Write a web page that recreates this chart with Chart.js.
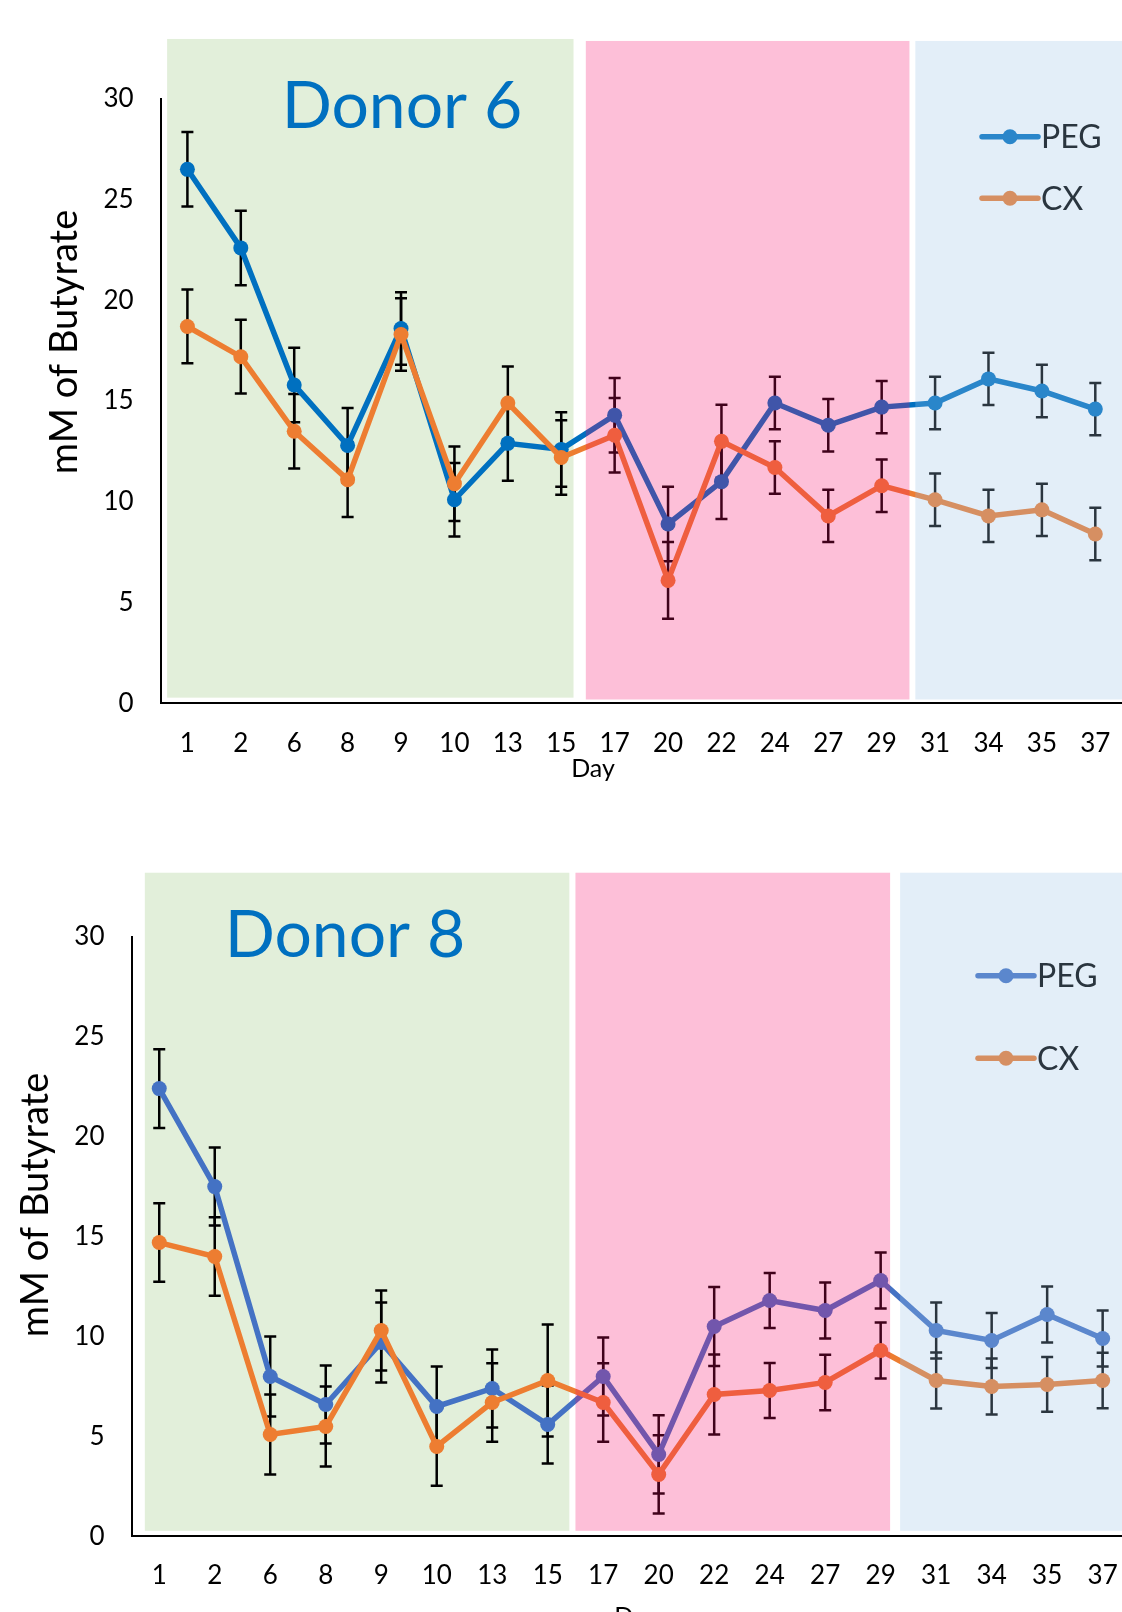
<!DOCTYPE html>
<html>
<head>
<meta charset="utf-8">
<script src="https://cdn.jsdelivr.net/npm/chart.js@4.4.0/dist/chart.umd.min.js"></script>
<style>
    html, body { margin: 0; padding: 0; background: #fff; overflow: hidden; width: 1122px; height: 1612px; }
    canvas { position: absolute; left: 0; }
    #donor6 { top: 0; }
    #donor8 { top: 806px; }
</style>
</head>
<body>
<canvas id="donor6" width="1137" height="806"></canvas>
<canvas id="donor8" width="1146" height="806"></canvas>
<script>
// Datos del gráfico
const days = ['1', '2', '6', '8', '9', '10', '13', '15', '17', '20', '22', '24', '27', '29', '31', '34', '35', '37'];
const yTicks = [0, 5, 10, 15, 20, 25, 30];
const seriesNames = ['PEG', 'CX'];

// Donor 6
const peg6 = [26.5, 22.6, 15.8, 12.8, 18.6, 10.1, 12.9, 12.6, 14.3, 8.9, 11.0, 14.9, 13.8, 14.7, 14.9, 16.1, 15.5, 14.6];
const pegErr6 = [1.85, 1.85, 1.85, 1.85, 1.8, 1.82, 1.85, 1.85, 1.85, 1.85, 1.85, 1.3, 1.3, 1.3, 1.3, 1.3, 1.3, 1.3];
const cx6 = [18.7, 17.2, 13.5, 11.1, 18.3, 10.9, 14.9, 12.2, 13.3, 6.1, 13.0, 11.7, 9.3, 10.8, 10.1, 9.3, 9.6, 8.4];
const cxErr6 = [1.83, 1.83, 1.85, 1.85, 1.8, 1.85, 1.82, 1.85, 1.85, 1.9, 1.82, 1.3, 1.3, 1.3, 1.3, 1.3, 1.3, 1.3];

// Donor 8
const peg8 = [22.4, 17.5, 8.0, 6.6, 9.7, 6.5, 7.4, 5.6, 8.0, 4.1, 10.5, 11.8, 11.3, 12.8, 10.3, 9.8, 11.1, 9.9];
const pegErr8 = [1.97, 1.95, 2.0, 1.95, 2.0, 2.0, 1.95, 1.95, 1.95, 1.96, 1.97, 1.38, 1.4, 1.4, 1.4, 1.38, 1.4, 1.4];
const cx8 = [14.7, 14.0, 5.1, 5.5, 10.3, 4.5, 6.7, 7.8, 6.7, 3.1, 7.1, 7.3, 7.7, 9.3, 7.8, 7.5, 7.6, 7.8];
const cxErr8 = [1.96, 1.96, 2.0, 2.0, 2.0, 1.97, 1.96, 2.8, 1.96, 1.96, 2.0, 1.38, 1.39, 1.4, 1.4, 1.4, 1.37, 1.39];

const FONT = 'Lato, "Open Sans", sans-serif';

// Fondo verde debajo, capas rosa y azul translúcidas encima (como en el original)
const GREEN = '#E2EFDA';
const PINK = 'rgba(246, 8, 104, 0.26)';
const BLUE = 'rgba(153, 193, 229, 0.275)';

// Función para dibujar una franja de fase en unidades de categoría / valor
const drawBand = (chart, band, fill) => {
    const { ctx, scales: { x, y } } = chart;
    const x0 = x.getPixelForValue(band.from);
    const x1 = Math.min(x.getPixelForValue(band.to), chart.width + 5);
    const y0 = y.getPixelForValue(band.top);
    const y1 = y.getPixelForValue(band.bottom);
    ctx.save();
    ctx.fillStyle = fill;
    ctx.fillRect(x0, y0, x1 - x0, y1 - y0);
    ctx.restore();
};

// Plugin con fases, barras de error, título, leyenda y etiquetas
const decorations = {
    id: 'decorations',
    beforeDraw(chart, args, opts) {
        const ctx = chart.ctx;
        ctx.save();
        ctx.fillStyle = '#fff';
        ctx.fillRect(0, 0, chart.width, chart.height);
        ctx.restore();
        drawBand(chart, opts.bands.green, GREEN);
    },
    beforeDatasetsDraw(chart, args, opts) {
        const { ctx, scales: { y } } = chart;
        ctx.save();
        ctx.strokeStyle = '#000';
        ctx.lineWidth = 2.5;
        chart.data.datasets.forEach((ds, i) => {
            const meta = chart.getDatasetMeta(i);
            meta.data.forEach((pt, j) => {
                const v = ds.data[j];
                const e = ds.errors[j];
                const yt = y.getPixelForValue(v + e);
                const yb = y.getPixelForValue(v - e);
                ctx.beginPath();
                ctx.moveTo(pt.x, yt);
                ctx.lineTo(pt.x, yb);
                ctx.moveTo(pt.x - 6, yt);
                ctx.lineTo(pt.x + 6, yt);
                ctx.moveTo(pt.x - 6, yb);
                ctx.lineTo(pt.x + 6, yb);
                ctx.stroke();
            });
        });
        ctx.restore();
    },
    afterDatasetsDraw(chart, args, opts) {
        const ctx = chart.ctx;
        ctx.save();

        // Título del donante
        ctx.fillStyle = '#0070C0';
        ctx.font = `66px ${FONT}`;
        ctx.textAlign = 'center';
        ctx.textBaseline = 'alphabetic';
        ctx.fillText(opts.title, opts.titleX, opts.titleY);

        // Título del eje Y
        ctx.fillStyle = '#000';
        ctx.font = `38px ${FONT}`;
        ctx.textBaseline = 'middle';
        ctx.save();
        ctx.translate(opts.yTitleX, opts.yTitleY);
        ctx.rotate(-Math.PI / 2);
        ctx.fillText('mM of Butyrate', 0, 0);
        ctx.restore();

        // Título del eje X
        ctx.font = `25px ${FONT}`;
        ctx.textBaseline = 'alphabetic';
        ctx.fillText('Day', opts.dayX, opts.dayY);

        // Leyenda
        ctx.font = `32px ${FONT}`;
        ctx.textAlign = 'left';
        ctx.textBaseline = 'middle';
        chart.data.datasets.forEach((ds, i) => {
            const ly = opts.legendY[i];
            ctx.strokeStyle = ds.borderColor;
            ctx.lineWidth = 5.5;
            ctx.lineCap = 'round';
            ctx.beginPath();
            ctx.moveTo(opts.legendX, ly);
            ctx.lineTo(opts.legendX + 56, ly);
            ctx.stroke();
            ctx.fillStyle = ds.borderColor;
            ctx.beginPath();
            ctx.arc(opts.legendX + 28, ly, 7.5, 0, Math.PI * 2);
            ctx.fill();
            ctx.fillStyle = '#000';
            ctx.fillText(ds.label, opts.legendX + 59, ly + 1);
        });
        ctx.restore();

        // Capas translúcidas de las fases 2 y 3
        drawBand(chart, opts.bands.pink, PINK);
        drawBand(chart, opts.bands.blue, BLUE);
    }
};

// Función para crear cada panel
const makeChart = (id, pegData, pegErr, cxData, cxErr, pegColor, L) => {
    const ctx = document.getElementById(id).getContext('2d');
    return new Chart(ctx, {
        type: 'line',
        data: {
            labels: days,
            datasets: [
                {
                    label: seriesNames[0], data: pegData, errors: pegErr, order: 1,
                    borderColor: pegColor, backgroundColor: pegColor,
                    pointBackgroundColor: pegColor, borderWidth: 5.5,
                    pointRadius: 7.5, pointBorderWidth: 0, tension: 0
                },
                {
                    label: seriesNames[1], data: cxData, errors: cxErr, order: 0,
                    borderColor: '#ED7D31', backgroundColor: '#ED7D31',
                    pointBackgroundColor: '#ED7D31', borderWidth: 5.5,
                    pointRadius: 7.5, pointBorderWidth: 0, tension: 0
                }
            ]
        },
        options: {
            responsive: false,
            devicePixelRatio: 1,
            animation: false,
            layout: { padding: { top: L.top, right: L.right, left: 0, bottom: 0 } },
            plugins: {
                legend: { display: false },
                tooltip: { enabled: false },
                decorations: L.deco
            },
            scales: {
                x: {
                    offset: true,
                    grid: { display: false, drawTicks: false },
                    border: { display: true, color: '#000', width: 2 },
                    ticks: { color: '#000', font: { family: FONT, size: 26 }, padding: L.xPad, maxRotation: 0, autoSkip: false },
                    afterFit: (s) => { s.height = L.xHeight; }
                },
                y: {
                    min: yTicks[0],
                    max: yTicks[yTicks.length - 1],
                    grid: { display: false, drawTicks: false },
                    border: { display: true, color: '#000', width: 2 },
                    ticks: { stepSize: yTicks[1] - yTicks[0], color: '#000', font: { family: FONT, size: 26 }, padding: 27 },
                    afterFit: (s) => { s.width = L.yWidth; }
                }
            }
        },
        plugins: [decorations]
    });
};

makeChart('donor6', peg6, pegErr6, cx6, cxErr6, '#0070C0', {
    top: 98.8, right: 15, xHeight: 806 - 703.3, yWidth: 160.7, xPad: 25,
    deco: {
        title: 'Donor 6', titleX: 402, titleY: 128,
        yTitleX: 65, yTitleY: 342,
        dayX: 593, dayY: 777,
        legendX: 982, legendY: [136.7, 198.3],
        bands: {
            green: { from: -0.38, to: 7.23, top: 32.97, bottom: 0.28 },
            pink: { from: 7.46, to: 13.52, top: 32.87, bottom: 0.19 },
            blue: { from: 13.63, to: 18, top: 32.87, bottom: 0.19 }
        }
    }
});

makeChart('donor8', peg8, pegErr8, cx8, cxErr8, '#4472C4', {
    top: 130.7, right: 15.6, xHeight: 806 - 730.4, yWidth: 131.5, xPad: 24,
    deco: {
        title: 'Donor 8', titleX: 345, titleY: 150.7,
        yTitleX: 36, yTitleY: 399,
        dayX: 636, dayY: 819,
        legendX: 978, legendY: [169.7, 252.3],
        bands: {
            green: { from: -0.26, to: 7.39, top: 33.2, bottom: 0.28 },
            pink: { from: 7.5, to: 13.17, top: 33.2, bottom: 0.28 },
            blue: { from: 13.35, to: 18, top: 33.2, bottom: 0.28 }
        }
    }
});
</script>
</body>
</html>
